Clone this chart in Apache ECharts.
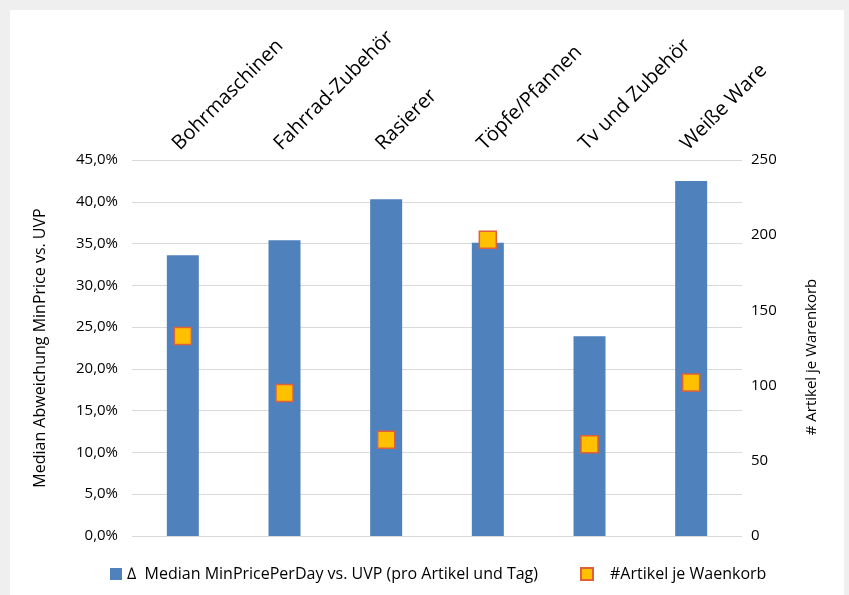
<!DOCTYPE html>
<html>
<head>
<meta charset="utf-8">
<script src="https://cdn.jsdelivr.net/npm/echarts@6/dist/echarts.min.js"></script>
<style>
  html, body { margin: 0; padding: 0; background: #efefef; }
  #chart { position: absolute; left: 10px; top: 10px; width: 834px; height: 585px; background: #fff; }
</style>
</head>
<body>
<div id="chart"></div>
<script>
// categories shown on the top axis
const categories = ['Bohrmaschinen', 'Fahrrad-Zubehör', 'Rasierer', 'Töpfe/Pfannen', 'Tv und Zubehör', 'Weiße Ware'];
// median deviation MinPrice vs. UVP, in percent
const medianDeviation = [33.6, 35.4, 40.3, 35.1, 23.9, 42.5];
// articles per basket (right axis)
const articlesPerBasket = [133, 95, 64, 197, 61, 102];

const barName = '\u2206  Median MinPricePerDay vs. UVP (pro Artikel und Tag)';
const dotName = '#Artikel je Waenkorb';

const font = 'Open Sans';
const chart = echarts.init(document.getElementById('chart'));

chart.setOption({
  backgroundColor: '#fff',
  animation: false,
  textStyle: { fontFamily: font, color: '#000' },
  grid: { left: 122, right: 102, top: 150, bottom: 59 },
  legend: {
    left: 100,
    top: 556,
    padding: 0,
    itemWidth: 12,
    itemHeight: 12,
    itemGap: 42,
    textStyle: { fontFamily: font, fontSize: 16, color: '#000' },
    data: [
      { name: barName, icon: 'rect' },
      { name: dotName, icon: 'rect', textStyle: { padding: [0, 0, 0, 12] } }
    ]
  },
  xAxis: {
    type: 'category',
    position: 'top',
    data: categories,
    axisLine: { show: false },
    axisTick: { show: false },
    axisLabel: {
      rotate: 45,
      margin: 6,
      interval: 0,
      verticalAlign: 'bottom',
      fontFamily: font,
      fontSize: 20,
      color: '#000'
    }
  },
  yAxis: [
    {
      type: 'value',
      min: 0,
      max: 45,
      interval: 5,
      name: 'Median Abweichung MinPrice vs. UVP',
      nameLocation: 'middle',
      nameGap: 84,
      nameTextStyle: { fontFamily: font, fontSize: 16, color: '#000' },
      axisLine: { show: false },
      axisTick: { show: false },
      axisLabel: {
        margin: 14,
        fontFamily: font,
        fontSize: 15,
        color: '#000',
        formatter: v => v.toFixed(1).replace('.', ',') + '%'
      },
      splitLine: { lineStyle: { color: '#d9d9d9', width: 1 } }
    },
    {
      type: 'value',
      min: 0,
      max: 250,
      interval: 50,
      name: '# Artikel je Warenkorb',
      nameLocation: 'middle',
      nameGap: 62,
      nameTextStyle: { fontFamily: font, fontSize: 15, color: '#000', padding: [0, 18, 0, 0] },
      axisLine: { show: false },
      axisTick: { show: false },
      axisLabel: { margin: 9, fontFamily: font, fontSize: 15, color: '#000' },
      splitLine: { show: false }
    }
  ],
  series: [
    {
      name: barName,
      type: 'bar',
      data: medianDeviation,
      barWidth: 32,
      itemStyle: { color: '#4f81bd' }
    },
    {
      name: dotName,
      type: 'scatter',
      yAxisIndex: 1,
      data: articlesPerBasket,
      symbol: 'rect',
      symbolSize: 17,
      z: 5,
      itemStyle: { color: '#ffc000', borderColor: '#e0603c', borderWidth: 1.5, opacity: 1 }
    }
  ]
});
</script>
</body>
</html>
